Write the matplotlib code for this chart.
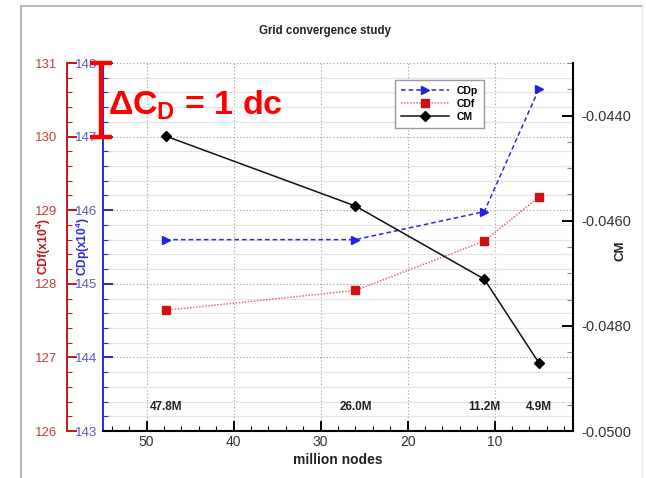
import numpy as np
import matplotlib
matplotlib.use("Agg")
import matplotlib.pyplot as plt
from matplotlib.ticker import MultipleLocator, FormatStrFormatter
from matplotlib.lines import Line2D
import matplotlib.transforms as mtransforms

plt.rcParams['font.family'] = ['Liberation Sans', 'DejaVu Sans']
plt.rcParams['mathtext.fontset'] = 'custom'
plt.rcParams['mathtext.rm'] = 'Liberation Sans:bold'
plt.rcParams['mathtext.it'] = 'Liberation Sans:bold'
plt.rcParams['mathtext.bf'] = 'Liberation Sans:bold'

# grid sizes (million nodes)
nodes = [47.8, 26.0, 11.2, 4.9]
# pressure drag, friction drag (x1e4) and moment
cdp = [145.60, 145.60, 145.98, 147.65]
cdf = [127.64, 127.91, 128.58, 129.18]
cm = [-0.04439, -0.04572, -0.04711, -0.04871]

RED_S = '#c01818'
RED_T = '#c8403c'
BLUE_S = '#2a2ad8'
BLUE_T = '#5a5ac8'

fig = plt.figure(figsize=(6.46, 4.78), dpi=100)
W, H = 646, 478
ax = fig.add_axes([103 / W, 1 - 431 / H, 470 / W, 368 / H])
axf = ax.twinx()
axm = ax.twinx()

# slide frame
fig.add_artist(Line2D([21 / W, 21 / W], [0, 1 - 6 / H], transform=fig.transFigure, color='#b8b8b8', lw=1.5))
fig.add_artist(Line2D([21 / W, 642 / W], [1 - 6 / H, 1 - 6 / H], transform=fig.transFigure, color='#b8b8b8', lw=1.5))
fig.add_artist(Line2D([642 / W, 642 / W], [0, 1 - 6 / H], transform=fig.transFigure, color='#ececec', lw=1))

# CDp on main axis
ax.plot(nodes, cdp, color=BLUE_S, ls=(0, (3, 2)), lw=1.1, marker='>', ms=6,
        mfc='#2020e8', mec='#2020e8', label='CDp', clip_on=False, zorder=3)
ax.set_xlim(55, 1)
ax.set_ylim(143, 148)
ax.xaxis.set_major_locator(MultipleLocator(10))
ax.xaxis.set_minor_locator(MultipleLocator(2))
ax.yaxis.set_major_locator(MultipleLocator(1))
ax.yaxis.set_minor_locator(MultipleLocator(0.2))
ax.grid(which='minor', axis='y', color='#e4e4e4', lw=0.9, ls='-')
ax.grid(which='major', axis='y', color='#9a9a9a', lw=0.8, ls=(0, (1, 2)))
ax.grid(which='major', axis='x', color='#9a9a9a', lw=0.8, ls=(0, (1, 2)))
ax.set_axisbelow(True)
for s in ['top', 'right']:
    ax.spines[s].set_visible(False)
ax.spines['left'].set_color(BLUE_S)
ax.spines['left'].set_linewidth(1.4)
ax.spines['bottom'].set_color('black')
ax.spines['bottom'].set_linewidth(1.5)
ax.tick_params(axis='y', which='both', direction='in', colors=BLUE_S, labelcolor=BLUE_T,
               labelsize=9.5, pad=4)
ax.tick_params(axis='y', which='major', length=7, width=1.4)
ax.tick_params(axis='y', which='minor', length=3.5, width=0.8)
ax.tick_params(axis='x', which='both', direction='in', labelsize=10, labelcolor='#333333', pad=3)
ax.tick_params(axis='x', which='major', length=7, width=1.4)
ax.tick_params(axis='x', which='minor', length=3.5, width=0.8)
ax.set_xlabel('million nodes', fontsize=10, fontweight='bold', color='#222222', labelpad=3)
ax.set_ylabel(r'CDp(x10$^4$)', fontsize=8.6, color=BLUE_S, fontweight='bold')
ax.yaxis.set_label_coords(-0.023, 0.5)

# CDf on outer left axis
axf.plot(nodes, cdf, color='#e07070', ls=(0, (1, 1)), lw=1.1, marker='s', ms=5.5,
         mfc='#d01010', mec='#d01010', label='CDf', clip_on=False, zorder=3)
axf.set_ylim(126, 131)
axf.yaxis.set_label_position('left')
axf.yaxis.tick_left()
axf.spines['left'].set_position(('outward', 26))
axf.spines['left'].set_color(RED_S)
axf.spines['left'].set_linewidth(1.4)
for s in ['top', 'right', 'bottom']:
    axf.spines[s].set_visible(False)
axf.yaxis.set_major_locator(MultipleLocator(1))
axf.yaxis.set_minor_locator(MultipleLocator(0.2))
axf.tick_params(axis='y', which='both', direction='in', colors=RED_S, labelcolor=RED_T,
                labelsize=9.5, pad=7)
axf.tick_params(axis='y', which='major', length=7, width=1.4)
axf.tick_params(axis='y', which='minor', length=3.5, width=0.8)
axf.set_ylabel(r'CDf(x10$^4$)', fontsize=8.8, color=RED_S, fontweight='bold')
axf.yaxis.set_label_coords(-0.106, 0.5)

# CM on right axis
axm.plot(nodes, cm, color='#111111', ls='-', lw=1.1, marker='D', ms=5,
         mfc='black', mec='black', label='CM', clip_on=False, zorder=4)
axm.set_ylim(-0.0500, -0.0430)
axm.yaxis.set_major_locator(MultipleLocator(0.002))
axm.yaxis.set_minor_locator(MultipleLocator(0.0005))
axm.yaxis.set_major_formatter(FormatStrFormatter('%.4f'))
for s in ['top', 'left', 'bottom']:
    axm.spines[s].set_visible(False)
axm.spines['right'].set_color('black')
axm.spines['right'].set_linewidth(1.5)
axm.tick_params(axis='y', which='both', direction='in', labelsize=10.5, labelcolor='#333333', pad=6)
axm.tick_params(axis='y', which='major', length=8, width=1.4)
axm.tick_params(axis='y', which='minor', length=4, width=0.8, color='#888888')
axm.set_ylabel('CM', fontsize=9.5, fontweight='bold', color='#222222')
axm.yaxis.set_label_coords(1.088, 0.49)

# node count labels
trans = mtransforms.blended_transform_factory(ax.transData, ax.transAxes)
for n in nodes:
    ax.text(n, 0.066, f'{n:.1f}M', transform=trans, ha='center', va='center',
            fontsize=8.5, fontweight='bold', color='#222222')

# title
fig.text(325 / W, 1 - 31 / H, 'Grid convergence study', ha='center', va='center',
         fontsize=8.3, fontweight='bold', color='#222222')

# 1 drag count marker
ax.errorbar([55.2], [147.5], yerr=[[0.5], [0.5]], color='#ff0000', lw=3.2, capsize=8,
            capthick=3.2, clip_on=False, zorder=6)
ax.text(54.4, 147.42, r'$\Delta C_D$ = 1 dc', color='#ff0000', fontsize=24.5,
        fontweight='bold', ha='left', va='center', zorder=6)

# legend
handles = ax.get_lines()[:1] + axf.get_lines()[:1] + axm.get_lines()[:1]
leg = fig.legend(handles, ['CDp', 'CDf', 'CM'], loc='upper left',
                 bbox_to_anchor=(395 / W, 1 - 80 / H), bbox_transform=fig.transFigure,
                 borderaxespad=0, fancybox=False, framealpha=1, edgecolor='#9a9a9a',
                 handlelength=4.6, labelspacing=0.3, numpoints=1, handletextpad=0.8,
                 borderpad=0.55, markerfirst=True, prop={'size': 7.5, 'weight': 'bold'})
leg.get_frame().set_linewidth(1.0)
leg.set_zorder(10)

fig.savefig('out.png', dpi=100)
